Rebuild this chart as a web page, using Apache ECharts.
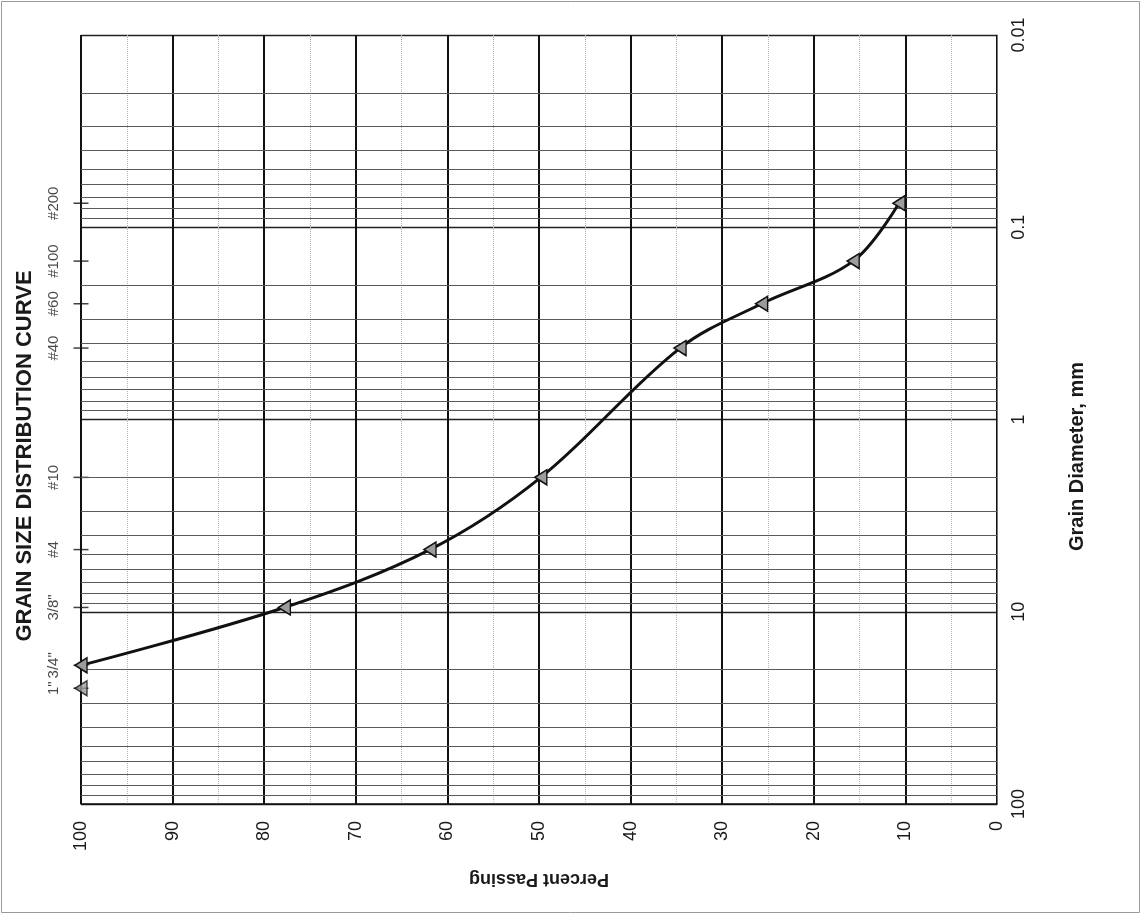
<!DOCTYPE html>
<html><head><meta charset="utf-8">
<script src="https://cdn.jsdelivr.net/npm/echarts@6/dist/echarts.min.js"></script>
<style>html,body{margin:0;padding:0;background:#fff}#c{width:1143px;height:919px}</style>
</head><body><div id="c"></div>
<script>
// ---- data ----
const sieveNames = ['1"', '3/4"', '3/8"', '#4', '#10', '#40', '#60', '#100', '#200'];
const sieveSizes = [25, 19, 9.5, 4.75, 2.0, 0.425, 0.25, 0.15, 0.075];          // mm
const percentPassing = [100, 100, 77.8, 61.9, 49.8, 34.6, 25.7, 15.7, 10.7];     // %
const diameterDecades = [0.01, 0.1, 1, 10];
const minorMultipliers = [2, 3, 4, 5, 6, 7, 8, 9];
const titleText = 'GRAIN SIZE DISTRIBUTION CURVE';
const xName = 'Percent Passing';
const yName = 'Grain Diameter, mm';

const FONT = 'Liberation Sans, Arial, sans-serif';
const INK = '#1a1a1a';

const minorDiameters = [];
diameterDecades.forEach(d => minorMultipliers.forEach(m => minorDiameters.push(+(d * m).toPrecision(6))));

const curveData = sieveSizes.slice(1).map((s, i) => [percentPassing[i + 1], s]);
const loosePoint = [[percentPassing[0], sieveSizes[0]]];
const sieveMarks = sieveSizes.map((s, i) => ({ value: [100, s], name: sieveNames[i] }));

const triangleStyle = {
  symbol: 'triangle', symbolSize: [15, 12], symbolRotate: 90,
  itemStyle: { color: '#9c9c9c', borderColor: '#111', borderWidth: 1.5 }
};

const chart = echarts.init(document.getElementById('c'), null, { renderer: 'canvas' });
chart.setOption({
  animation: false,
  backgroundColor: '#fff',
  textStyle: { fontFamily: FONT },
  grid: { left: 81, right: 146, top: 35, bottom: 115, containLabel: false },
  xAxis: {
    type: 'value', min: 0, max: 100, interval: 10, inverse: true,
    name: xName, nameLocation: 'middle', nameRotate: 180, nameGap: 66,
    nameTextStyle: { fontSize: 18, fontWeight: 'bold', color: INK, fontFamily: FONT },
    axisLine: { show: true, lineStyle: { color: '#111', width: 1.5 } },
    axisTick: { show: false },
    axisLabel: { rotate: 90, fontSize: 18, margin: 17, color: INK, fontFamily: FONT },
    splitLine: { show: true, lineStyle: { color: '#111', width: 2 } },
    minorTick: { show: false, splitNumber: 2 },
    minorSplitLine: { show: true, lineStyle: { color: '#b4b4c8', width: 1, type: 'dotted' } }
  },
  yAxis: {
    type: 'log', logBase: 10, min: 0.01, max: 100, inverse: true, position: 'right',
    name: yName, nameLocation: 'middle', nameRotate: 90, nameGap: 70,
    nameTextStyle: { fontSize: 20, fontWeight: 'bold', color: INK, fontFamily: FONT, padding: [0, 74, 0, 0] },
    axisLine: { show: true, lineStyle: { color: '#777', width: 1 } },
    axisTick: { show: false },
    axisLabel: { rotate: 90, fontSize: 18, margin: 13, color: INK, fontFamily: FONT,
      formatter: v => String(+Number(v).toPrecision(6)) },
    splitLine: { show: true, lineStyle: { color: '#222', width: 1.4 } }
  },
  graphic: [
    { type: 'rect', silent: true, shape: { x: 1.5, y: 1.5, width: 1138, height: 911 },
      style: { fill: 'none', stroke: '#9a9a9a', lineWidth: 1 } },
    { type: 'text', x: 25, y: 456, rotation: Math.PI / 2, silent: true,
      style: { text: titleText, fontSize: 22, fontWeight: 'bold', fontFamily: FONT, fill: INK,
        align: 'center', verticalAlign: 'middle', textAlign: 'center', textVerticalAlign: 'middle' } }
  ],
  series: [
    {
      type: 'scatter', name: 'sieves', data: sieveMarks, clip: false, z: 3,
      symbol: 'rect', symbolSize: [15, 1.5],
      itemStyle: { color: '#111' },
      label: { show: true, formatter: '{b}', position: [-20, 0.75], rotate: 90,
        align: 'center', verticalAlign: 'middle', fontSize: 15, color: INK, fontFamily: FONT },
      markLine: {
        silent: true, symbol: ['none', 'none'], label: { show: false },
        lineStyle: { color: '#5a5a5a', width: 1, type: 'solid' },
        data: minorDiameters.map(v => ({ yAxis: v }))
      }
    },
    Object.assign({
      type: 'line', name: 'curve', data: curveData, smooth: 0.35, clip: false, z: 5,
      showAllSymbol: true,
      lineStyle: { color: '#111', width: 3 }
    }, triangleStyle),
    Object.assign({
      type: 'scatter', name: 'loose', data: loosePoint, clip: false, z: 6
    }, triangleStyle)
  ]
});
</script>
</body></html>
